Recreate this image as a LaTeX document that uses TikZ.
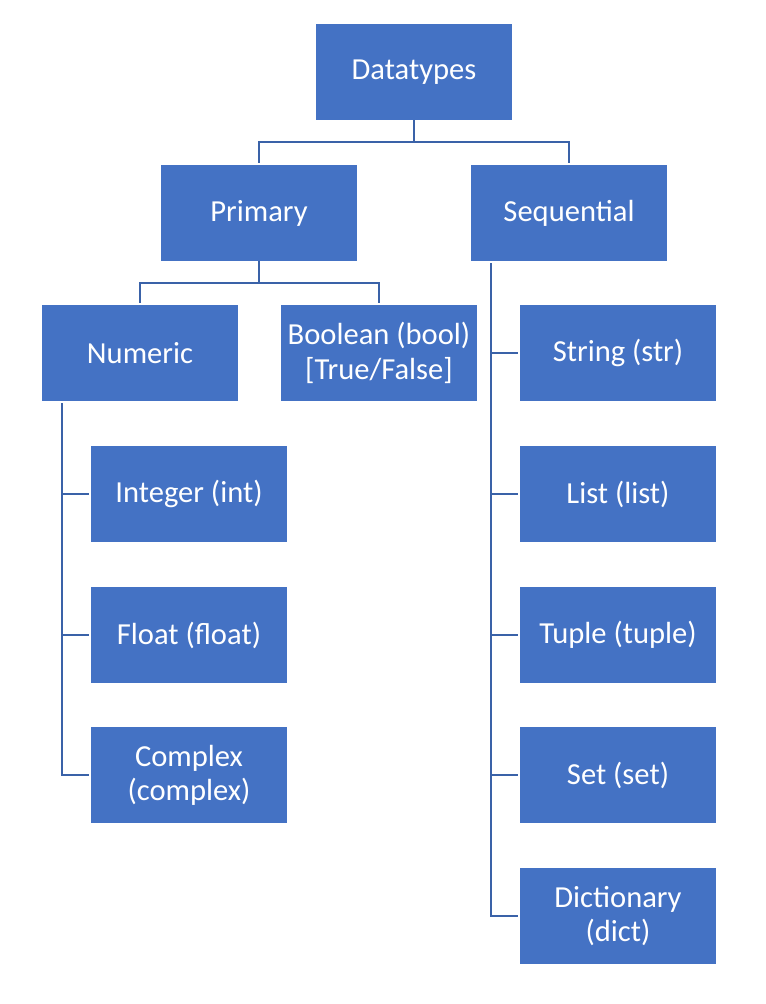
\documentclass[tikz,border=0pt]{standalone}
\usepackage{fontspec}
\setmainfont{Carlito}
\definecolor{boxblue}{HTML}{4472C4}
\definecolor{lineblue}{HTML}{3A62A8}
\tikzset{
  typebox/.style={rectangle, fill=boxblue, text=white, align=center,
    minimum width=3.92cm, minimum height=1.92cm, inner sep=0pt,
    font=\fontsize{17.4}{19.5}\selectfont},
  link/.style={draw=lineblue, line width=1.1pt, shorten >=1pt}
}
\begin{document}
\begin{tikzpicture}[x=0.02cm, y=-0.02cm]
  \useasboundingbox (0,0) rectangle (766,1004);
  % top level
  \node[typebox] (dt) at (414,72) {Datatypes};
  \node[typebox] (prim) at (259,213) {Primary};
  \node[typebox] (seq) at (569,213) {Sequential};
  % primary types
  \node[typebox] (num) at (140,353) {Numeric};
  \node[typebox] (bool) at (379,353) {Boolean (bool)\\{}[True/False]};
  \node[typebox] (int) at (189,494) {Integer (int)};
  \node[typebox] (flt) at (189,635) {Float (float)};
  \node[typebox] (cpx) at (189,775) {Complex\\(complex)};
  % sequential types
  \node[typebox] (str) at (618,353) {String (str)};
  \node[typebox] (lst) at (618,494) {List (list)};
  \node[typebox] (tpl) at (618,635) {Tuple (tuple)};
  \node[typebox] (set) at (618,775) {Set (set)};
  \node[typebox] (dct) at (618,916) {Dictionary\\(dict)};
  % connectors
  \draw[link] (dt.south) -- ++(0,22) -| (prim.north);
  \draw[link] (dt.south) -- ++(0,22) -| (seq.north);
  \draw[link] (prim.south) -- ++(0,22) -| (num.north);
  \draw[link] (prim.south) -- ++(0,22) -| (bool.north);
  \coordinate (ntop) at (62,403);
  \coordinate (stop) at (491,263);
  \foreach \n in {int,flt,cpx} \draw[link] (ntop) |- (\n.west);
  \foreach \n in {str,lst,tpl,set,dct} \draw[link] (stop) |- (\n.west);
\end{tikzpicture}
\end{document}
